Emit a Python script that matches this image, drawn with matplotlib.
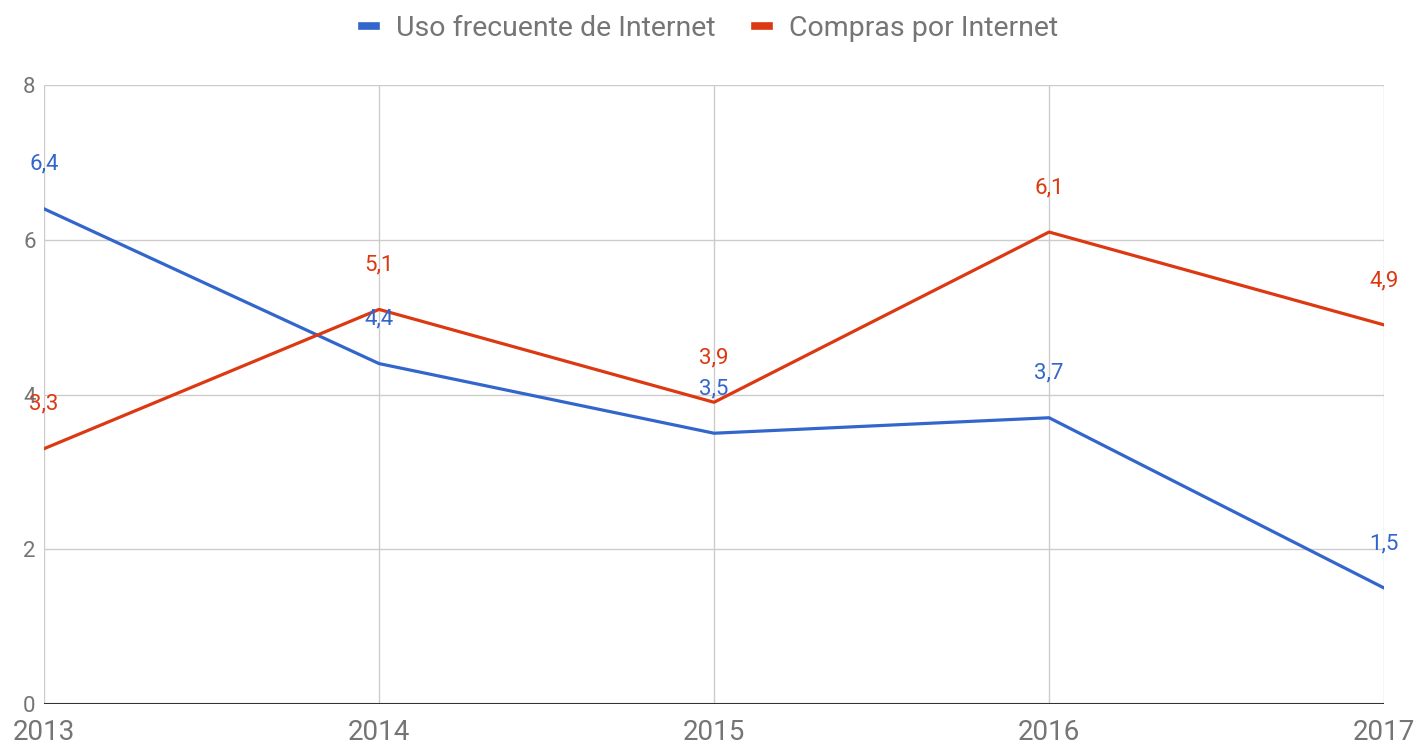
import matplotlib
matplotlib.use("Agg")
import matplotlib.pyplot as plt

years = [2013, 2014, 2015, 2016, 2017]
uso = [6.4, 4.4, 3.5, 3.7, 1.5]
compras = [3.3, 5.1, 3.9, 6.1, 4.9]
labels_uso = ["6,4", "4,4", "3,5", "3,7", "1,5"]
labels_compras = ["3,3", "5,1", "3,9", "6,1", "4,9"]

plt.rcParams['font.family'] = ['Roboto', 'DejaVu Sans']

blue = '#3366cc'
red = '#dc3912'
grey = '#757575'

fig = plt.figure(figsize=(14.2, 7.49), dpi=100)
ax = fig.add_axes([0.031, 0.060, 0.9437, 0.8265])

ax.plot(years, uso, color=blue, lw=2.3, label='Uso frecuente de Internet', zorder=3)
ax.plot(years, compras, color=red, lw=2.3, label='Compras por Internet', zorder=3)

# etykiety wartosci nad punktami
for x, y, t in zip(years, uso, labels_uso):
    ax.annotate(t, (x, y), xytext=(0, 32), textcoords='offset points',
                ha='center', va='center', color=blue, fontsize=16, zorder=4)
for x, y, t in zip(years, compras, labels_compras):
    ax.annotate(t, (x, y), xytext=(0, 32), textcoords='offset points',
                ha='center', va='center', color=red, fontsize=16, zorder=4)

ax.set_xlim(2013, 2017)
ax.set_ylim(0, 8)
ax.set_xticks(years)
ax.set_yticks([0, 2, 4, 6, 8])
ax.grid(True, color='#cccccc', lw=1)
ax.axhline(0, color='#333333', lw=1.5, zorder=2)
for s in ax.spines.values():
    s.set_visible(False)
ax.tick_params(length=0, colors=grey)
ax.tick_params(axis='x', pad=11, labelsize=20)
ax.tick_params(axis='y', pad=6, labelsize=16)

leg = fig.legend(loc='upper center', bbox_to_anchor=(0.5, 1.014), ncol=2, frameon=False,
                 fontsize=20.5, handlelength=0.5, columnspacing=1.4, handletextpad=0.7)
for line in leg.get_lines():
    line.set_linewidth(5.5)
for txt in leg.get_texts():
    txt.set_color(grey)

fig.savefig('out.png', dpi=100)
